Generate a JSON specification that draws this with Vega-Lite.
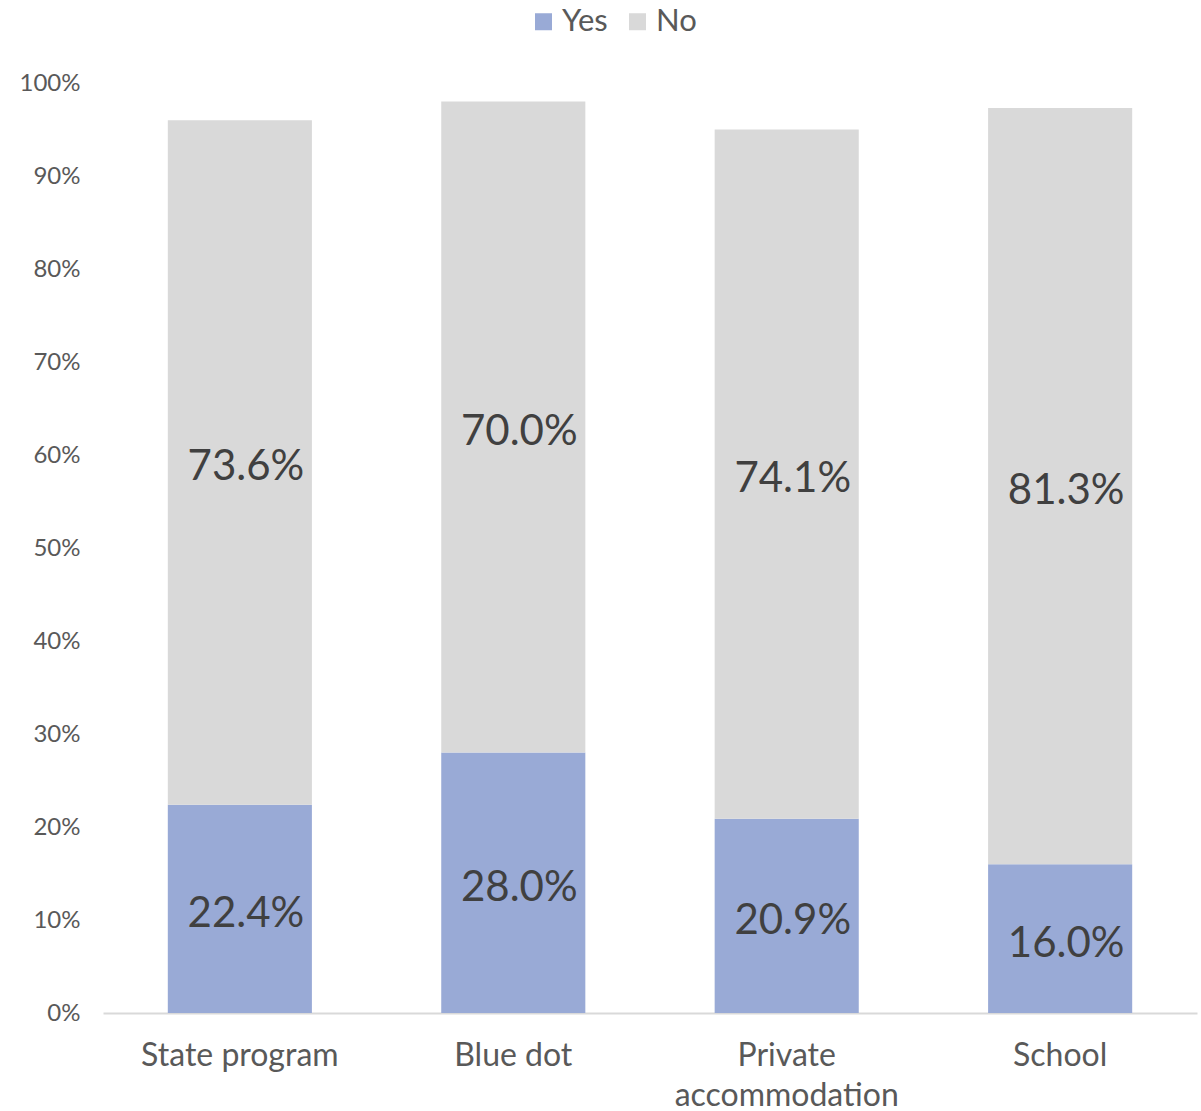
{
  "$schema": "https://vega.github.io/schema/vega-lite/v6.json",
  "autosize": "none",
  "width": 1094,
  "height": 930,
  "padding": {"left": 103, "top": 83, "right": 4, "bottom": 98},
  "background": "white",
  "config": {
    "view": {"stroke": null},
    "font": "Lato",
    "axis": {"labelFont": "Lato", "labelColor": "#595959", "grid": false, "ticks": false, "title": null}
  },
  "data": {
    "values": [
      {"cat": "State program", "ans": "Yes", "pct": 0.224},
      {"cat": "State program", "ans": "No", "pct": 0.736},
      {"cat": "Blue dot", "ans": "Yes", "pct": 0.28},
      {"cat": "Blue dot", "ans": "No", "pct": 0.70},
      {"cat": "Private accommodation", "ans": "Yes", "pct": 0.209},
      {"cat": "Private accommodation", "ans": "No", "pct": 0.741},
      {"cat": "School", "ans": "Yes", "pct": 0.16},
      {"cat": "School", "ans": "No", "pct": 0.813}
    ]
  },
  "transform": [
    {"stack": "pct", "groupby": ["cat"], "sort": [{"field": "ans", "order": "descending"}], "as": ["y0", "y1"]}
  ],
  "encoding": {
    "x": {
      "field": "cat",
      "type": "nominal",
      "sort": ["State program", "Blue dot", "Private accommodation", "School"],
      "scale": {"paddingInner": 0.473, "paddingOuter": 0.237},
      "axis": {
        "labelAngle": 0,
        "labelFontSize": 32,
        "labelPadding": 27,
        "labelLineHeight": 40,
        "labelExpr": "datum.label == 'Private accommodation' ? ['Private', 'accommodation'] : datum.label",
        "domainColor": "#D9D9D9",
        "domainWidth": 2,
        "labelLimit": 400
      }
    }
  },
  "layer": [
    {
      "mark": {"type": "bar"},
      "encoding": {
        "y": {
          "field": "y0",
          "type": "quantitative",
          "scale": {"domain": [0, 1], "nice": false},
          "axis": {
            "values": [0, 0.1, 0.2, 0.3, 0.4, 0.5, 0.6, 0.7, 0.8, 0.9, 1],
            "format": ".0%",
            "labelFontSize": 24,
            "labelPadding": 23,
            "domain": false
          }
        },
        "y2": {"field": "y1"},
        "color": {
          "field": "ans",
          "type": "nominal",
          "scale": {"domain": ["Yes", "No"], "range": ["#99AAD6", "#D9D9D9"]},
          "legend": {
            "title": null,
            "orient": "none",
            "direction": "horizontal",
            "legendX": 425,
            "legendY": -77,
            "symbolType": "square",
            "symbolSize": 289,
            "symbolStrokeWidth": 0,
            "labelFont": "Lato",
            "labelFontSize": 31,
            "labelColor": "#595959",
            "labelOffset": 3,
            "columnPadding": 14
          }
        }
      }
    },
    {
      "transform": [{"fold": ["y0", "y1"], "as": ["k", "v"]}],
      "mark": {"type": "text", "font": "Lato", "fontSize": 42, "color": "#404040", "baseline": "middle", "align": "center", "dy": 5, "dx": 6},
      "encoding": {
        "y": {"field": "v", "aggregate": "mean", "type": "quantitative"},
        "text": {"field": "pct", "type": "quantitative", "format": ".1%"},
        "detail": {"field": "ans"}
      }
    }
  ]
}
